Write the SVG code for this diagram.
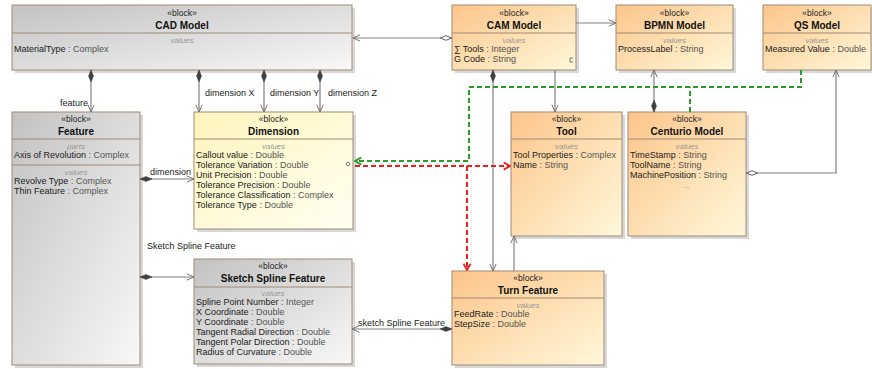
<svg xmlns="http://www.w3.org/2000/svg" width="872" height="369" viewBox="0 0 872 369">
<defs>
<linearGradient id="gOrange" x1="0" y1="0" x2="1" y2="1"><stop offset="0" stop-color="#fcc58a"/><stop offset="1" stop-color="#fff8da"/></linearGradient>
<linearGradient id="gGray" x1="0" y1="0" x2="1" y2="1"><stop offset="0" stop-color="#c2c2c2"/><stop offset="1" stop-color="#f8f8f8"/></linearGradient>
<linearGradient id="gYellow" x1="0" y1="0" x2="1" y2="1"><stop offset="0" stop-color="#fff4bc"/><stop offset="1" stop-color="#fffff2"/></linearGradient>
<marker id="arr" viewBox="0 0 10 10" refX="10" refY="5" markerWidth="8" markerHeight="8" markerUnits="userSpaceOnUse" orient="auto"><path d="M1,1 L10,5 L1,9" fill="none" stroke="#707070" stroke-width="1.2"/></marker>
<marker id="arrG" viewBox="0 0 10 10" refX="9" refY="5" markerWidth="9" markerHeight="9" markerUnits="userSpaceOnUse" orient="auto"><path d="M2,1 L9,5 L2,9" fill="none" stroke="#2a9a2a" stroke-width="2"/></marker>
<marker id="arrR" viewBox="0 0 10 10" refX="9" refY="5" markerWidth="9" markerHeight="9" markerUnits="userSpaceOnUse" orient="auto"><path d="M2,1 L9,5 L2,9" fill="none" stroke="#e82020" stroke-width="2"/></marker>
<marker id="dia" viewBox="0 0 12 6" refX="0" refY="3" markerWidth="12" markerHeight="6" markerUnits="userSpaceOnUse" orient="auto"><polygon points="0,3 6,0.5 12,3 6,5.5" fill="#404040" stroke="#404040" stroke-width="0.5"/></marker>
<marker id="hdia" viewBox="0 0 12 6" refX="0" refY="3" markerWidth="12" markerHeight="6" markerUnits="userSpaceOnUse" orient="auto"><polygon points="0.5,3 6,0.7 11.5,3 6,5.3" fill="#ffffff" stroke="#505050" stroke-width="0.9"/></marker>
</defs>
<style>
.sh{fill:#c8c8c8;opacity:0.7}
.box{stroke:#a08a74;stroke-width:1}
.div{stroke:#a08a74;stroke-width:1}
.st{font-family:"Liberation Sans",Arial,sans-serif;font-size:8.5px;fill:#222;text-anchor:middle}
.nm{font-family:"Liberation Sans",Arial,sans-serif;font-size:10px;font-weight:bold;fill:#111;text-anchor:middle}
.cp{font-family:"Liberation Sans",Arial,sans-serif;font-size:8px;font-style:italic;fill:#999;text-anchor:middle}
.at{font-family:"Liberation Sans",Arial,sans-serif;font-size:9px;fill:#222}
.ty{fill:#555}
.lb{font-family:"Liberation Sans",Arial,sans-serif;font-size:9px;fill:#222}
.ln{fill:none;stroke:#808080;stroke-width:1.2}
.gd{fill:none;stroke:#2a9a2a;stroke-width:2;stroke-dasharray:5,3}
.rd{fill:none;stroke:#e82020;stroke-width:2;stroke-dasharray:5,3}
.ic{fill:none;stroke:#777;stroke-width:1}
</style>

<g id="cad-model">
<rect class="sh" x="15" y="8" width="340" height="65"/>
<rect class="box" x="12" y="5" width="340" height="65" fill="url(#gGray)"/>
<line class="div" x1="12" y1="33" x2="352" y2="33"/>
<text class="st" x="182" y="16">«block»</text>
<text class="nm" x="182" y="29">CAD Model</text>
<text class="cp" x="182" y="43">values</text>
<text class="at" x="14" y="52">MaterialType<tspan class="ty"> : Complex</tspan></text>
</g>

<g id="feature">
<rect class="sh" x="15" y="115" width="128" height="253"/>
<rect class="box" x="12" y="112" width="128" height="253" fill="url(#gGray)"/>
<line class="div" x1="12" y1="139" x2="140" y2="139"/>
<line class="div" x1="12" y1="165" x2="140" y2="165"/>
<text class="st" x="76" y="122">«block»</text>
<text class="nm" x="76" y="135">Feature</text>
<text class="cp" x="76" y="149">parts</text>
<text class="at" x="14" y="158">Axis of Revolution<tspan class="ty"> : Complex</tspan></text>
<text class="cp" x="76" y="175">values</text>
<text class="at" x="14" y="184">Revolve Type<tspan class="ty"> : Complex</tspan></text>
<text class="at" x="14" y="194">Thin Feature<tspan class="ty"> : Complex</tspan></text>
</g>

<g id="dimension">
<rect class="sh" x="197" y="115" width="159" height="117"/>
<rect class="box" x="194" y="112" width="159" height="117" fill="url(#gYellow)"/>
<line class="div" x1="194" y1="139" x2="353" y2="139"/>
<text class="st" x="273.5" y="122">«block»</text>
<text class="nm" x="273.5" y="135">Dimension</text>
<text class="cp" x="273.5" y="149">values</text>
<text class="at" x="196" y="158">Callout value<tspan class="ty"> : Double</tspan></text>
<text class="at" x="196" y="168">Tolerance Variation<tspan class="ty"> : Double</tspan></text>
<text class="at" x="196" y="178">Unit Precision<tspan class="ty"> : Double</tspan></text>
<text class="at" x="196" y="188">Tolerance Precision<tspan class="ty"> : Double</tspan></text>
<text class="at" x="196" y="198">Tolerance Classification<tspan class="ty"> : Complex</tspan></text>
<text class="at" x="196" y="208">Tolerance Type<tspan class="ty"> : Double</tspan></text>
<circle class="ic" cx="348" cy="164" r="1.8"/>
</g>

<g id="sketch-spline-feature">
<rect class="sh" x="197" y="262" width="158" height="105"/>
<rect class="box" x="194" y="259" width="158" height="105" fill="url(#gGray)"/>
<line class="div" x1="194" y1="287" x2="352" y2="287"/>
<text class="st" x="273" y="269">«block»</text>
<text class="nm" x="273" y="282">Sketch Spline Feature</text>
<text class="cp" x="273" y="296">values</text>
<text class="at" x="196" y="305">Spline Point Number<tspan class="ty"> : Integer</tspan></text>
<text class="at" x="196" y="315">X Coordinate<tspan class="ty"> : Double</tspan></text>
<text class="at" x="196" y="325">Y Coordinate<tspan class="ty"> : Double</tspan></text>
<text class="at" x="196" y="335">Tangent Radial Direction<tspan class="ty"> : Double</tspan></text>
<text class="at" x="196" y="345">Tangent Polar Direction<tspan class="ty"> : Double</tspan></text>
<text class="at" x="196" y="355">Radius of Curvature<tspan class="ty"> : Double</tspan></text>
</g>

<g id="cam-model">
<rect class="sh" x="455" y="8" width="124" height="65"/>
<rect class="box" x="452" y="5" width="124" height="65" fill="url(#gOrange)"/>
<line class="div" x1="452" y1="33" x2="576" y2="33"/>
<text class="st" x="514" y="16">«block»</text>
<text class="nm" x="514" y="29">CAM Model</text>
<text class="cp" x="514" y="43">values</text>
<text class="at" x="454" y="52">∑ Tools<tspan class="ty"> : Integer</tspan></text>
<text class="at" x="454" y="62">G Code<tspan class="ty"> : String</tspan></text>
<path class="ic" d="M573,58 L570,58 L570,62 L573,62"/>
</g>

<g id="bpmn-model">
<rect class="sh" x="619" y="8" width="117" height="65"/>
<rect class="box" x="616" y="5" width="117" height="65" fill="url(#gOrange)"/>
<line class="div" x1="616" y1="33" x2="733" y2="33"/>
<text class="st" x="674.5" y="16">«block»</text>
<text class="nm" x="674.5" y="29">BPMN Model</text>
<text class="cp" x="674.5" y="43">values</text>
<text class="at" x="618" y="52">ProcessLabel<tspan class="ty"> : String</tspan></text>
</g>

<g id="qs-model">
<rect class="sh" x="766" y="8" width="108" height="65"/>
<rect class="box" x="763" y="5" width="108" height="65" fill="url(#gOrange)"/>
<line class="div" x1="763" y1="33" x2="871" y2="33"/>
<text class="st" x="817" y="16">«block»</text>
<text class="nm" x="817" y="29">QS Model</text>
<text class="cp" x="817" y="43">values</text>
<text class="at" x="765" y="52">Measured Value<tspan class="ty"> : Double</tspan></text>
</g>

<g id="tool">
<rect class="sh" x="514" y="115" width="111" height="124"/>
<rect class="box" x="511" y="112" width="111" height="124" fill="url(#gOrange)"/>
<line class="div" x1="511" y1="139" x2="622" y2="139"/>
<text class="st" x="566.5" y="122">«block»</text>
<text class="nm" x="566.5" y="135">Tool</text>
<text class="cp" x="566.5" y="149">values</text>
<text class="at" x="513" y="158">Tool Properties<tspan class="ty"> : Complex</tspan></text>
<text class="at" x="513" y="168">Name<tspan class="ty"> : String</tspan></text>
</g>

<g id="centurio-model">
<rect class="sh" x="631" y="115" width="118" height="124"/>
<rect class="box" x="628" y="112" width="118" height="124" fill="url(#gOrange)"/>
<line class="div" x1="628" y1="139" x2="746" y2="139"/>
<text class="st" x="687" y="122">«block»</text>
<text class="nm" x="687" y="135">Centurio Model</text>
<text class="cp" x="687" y="149">values</text>
<text class="at" x="630" y="158">TimeStamp<tspan class="ty"> : String</tspan></text>
<text class="at" x="630" y="168">ToolName<tspan class="ty"> : String</tspan></text>
<text class="at" x="630" y="178">MachinePosition<tspan class="ty"> : String</tspan></text>
<text class="cp" x="687" y="188">...</text>
</g>

<g id="turn-feature">
<rect class="sh" x="455" y="274" width="152" height="94"/>
<rect class="box" x="452" y="271" width="152" height="94" fill="url(#gOrange)"/>
<line class="div" x1="452" y1="298" x2="604" y2="298"/>
<text class="st" x="528" y="281">«block»</text>
<text class="nm" x="528" y="294">Turn Feature</text>
<text class="cp" x="528" y="308">values</text>
<text class="at" x="454" y="317">FeedRate<tspan class="ty"> : Double</tspan></text>
<text class="at" x="454" y="327">StepSize<tspan class="ty"> : Double</tspan></text>
</g>

<g id="connectors">
<path class="ln" d="M91,70 L91,112" marker-start="url(#dia)" marker-end="url(#arr)"/>
<text class="lb" x="88" y="106" text-anchor="end">feature</text>
<path class="ln" d="M199,70 L199,112" marker-start="url(#dia)" marker-end="url(#arr)"/>
<text class="lb" x="205" y="96">dimension X</text>
<path class="ln" d="M264,70 L264,112" marker-start="url(#dia)" marker-end="url(#arr)"/>
<text class="lb" x="270" y="96">dimension Y</text>
<path class="ln" d="M320,70 L320,112" marker-start="url(#dia)" marker-end="url(#arr)"/>
<text class="lb" x="328" y="96">dimension Z</text>
<path class="ln" d="M452,38 L353,38" marker-start="url(#hdia)" marker-end="url(#arr)"/>
<path class="ln" d="M576,23 L616,23" marker-end="url(#arr)"/>
<path class="ln" d="M493,70 L493,271" marker-start="url(#dia)" marker-end="url(#arr)"/>
<path class="ln" d="M555,70 L555,112" marker-end="url(#arr)"/>
<path class="ln" d="M654,112 L654,70" marker-start="url(#dia)" marker-end="url(#arr)"/>
<path class="ln" d="M746,173 L836,173 L836,70" marker-start="url(#hdia)" marker-end="url(#arr)"/>
<path class="ln" d="M514,271 L514,236" marker-end="url(#arr)"/>
<path class="ln" d="M140,179 L194,179" marker-start="url(#dia)" marker-end="url(#arr)"/>
<text class="lb" x="150" y="175">dimension</text>
<path class="ln" d="M140,277 L194,277" marker-start="url(#dia)" marker-end="url(#arr)"/>
<text class="lb" x="147" y="249">Sketch Spline Feature</text>
<path class="ln" d="M452,329 L352,329" marker-start="url(#dia)" marker-end="url(#arr)"/>
<text class="lb" x="358" y="326">sketch Spline Feature</text>
<path class="gd" d="M801,70 L801,87 L469,87 L469,161 L355,161" marker-end="url(#arrG)"/>
<path class="gd" d="M690,112 L690,87"/>
<path class="rd" d="M355,166 L510,166" marker-end="url(#arrR)"/>
<path class="rd" d="M467,166 L467,270" marker-end="url(#arrR)"/>
</g>
</svg>
